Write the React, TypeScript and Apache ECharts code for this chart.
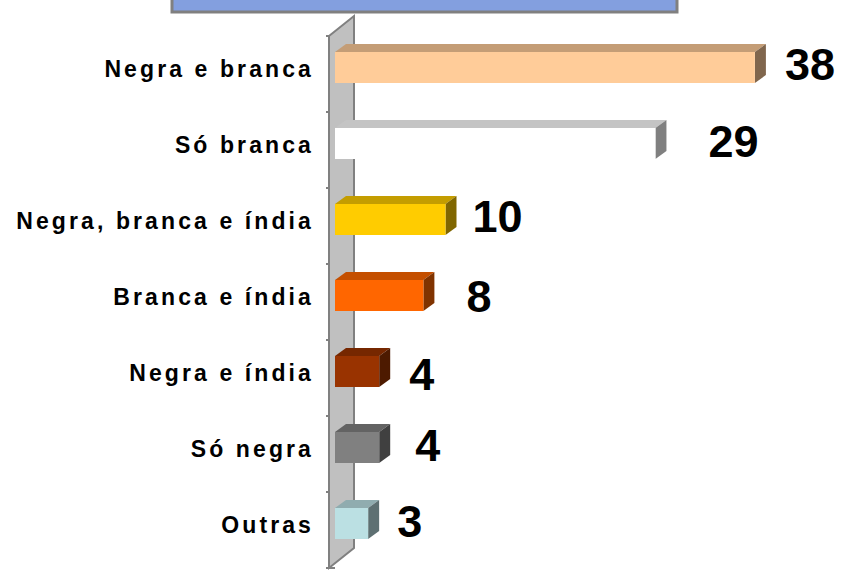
import React, { useEffect, useRef } from 'react';
import * as echarts from 'echarts';

// ---- data ----
const categories = [
  'Negra e branca',
  'Só branca',
  'Negra, branca e índia',
  'Branca e índia',
  'Negra e índia',
  'Só negra',
  'Outras',
];
const values = [38, 29, 10, 8, 4, 4, 3];
const barColors = ['#FFCC99', '#FFFFFF', '#FFCC00', '#FF6600', '#993300', '#808080', '#BBE0E3'];
// label nudges (px) relative to bar end / band centre
const labelDx = [30, 53, 27, 43, 30, 36, 29];
const labelDy = [-10, -9, -10, -6, -4, -9, -9];

function shade(hex: string, f: number): string {
  const n = parseInt(hex.slice(1), 16);
  const r = Math.round(((n >> 16) & 255) * f);
  const g = Math.round(((n >> 8) & 255) * f);
  const b = Math.round((n & 255) * f);
  return 'rgb(' + r + ',' + g + ',' + b + ')';
}

const DX = 11;
const DY = -8;
const WALL_DX = 25;
const WALL_DY = -20;
const BAR_H = 31;
const BAR_SHIFT = -6.5;

export default function App() {
  const ref = useRef<HTMLDivElement>(null);

  useEffect(() => {
    if (!ref.current) return;
    const chart = echarts.init(ref.current, null, { renderer: 'svg' });
    const option: any = {
      animation: false,
      backgroundColor: '#ffffff',
      grid: { left: 335, top: 36, width: 442, height: 532 },
      xAxis: { type: 'value', min: 0, max: 40, show: false },
      yAxis: {
        type: 'category',
        data: categories,
        inverse: true,
        offset: 6,
        axisLine: { show: false },
        axisTick: { show: true, length: 9, lineStyle: { color: '#808080', width: 2 } },
        axisLabel: {
          interval: 0,
          margin: 15,
          fontSize: 23,
          fontWeight: 'bold',
          fontFamily: 'Liberation Sans',
          color: '#000000',
          verticalAlign: 'bottom',
          lineHeight: 10,
        },
        splitLine: { show: false },
      },
      graphic: [
        {
          type: 'rect',
          shape: { x: 172, y: -20, width: 505, height: 32 },
          style: { fill: '#839FDF', stroke: '#808080', lineWidth: 3 },
          silent: true,
        },
      ],
      series: [
        {
          type: 'custom',
          name: 'wall',
          z: 1,
          silent: true,
          data: [[0, 0]],
          renderItem: (params: any) => {
            const cs = params.coordSys;
            const L = cs.x - 6;
            const T = cs.y;
            const B = cs.y + cs.height;
            return {
              type: 'polygon',
              shape: {
                points: [
                  [L, T],
                  [L + WALL_DX, T + WALL_DY],
                  [L + WALL_DX, B + WALL_DY],
                  [L, B],
                ],
              },
              style: { fill: '#C0C0C0', stroke: '#808080', lineWidth: 2 },
            };
          },
        },
        {
          type: 'custom',
          name: 'bars',
          z: 3,
          data: values.map((v, i) => [v, i]),
          encode: { x: 0, y: 1 },
          renderItem: (params: any, api: any) => {
            const v = api.value(0);
            const i = api.value(1);
            const p0 = api.coord([0, i]);
            const p1 = api.coord([v, i]);
            const cy = p0[1] + BAR_SHIFT;
            const yt = cy - BAR_H / 2;
            const yb = cy + BAR_H / 2;
            const x0 = p0[0];
            const x1 = p1[0];
            const front = barColors[i];
            return {
              type: 'group',
              children: [
                {
                  type: 'polygon',
                  shape: { points: [[x0, yt], [x0 + DX, yt + DY], [x1 + DX, yt + DY], [x1, yt]] },
                  style: { fill: shade(front, 0.77) },
                },
                {
                  type: 'polygon',
                  shape: { points: [[x1, yt], [x1 + DX, yt + DY], [x1 + DX, yb + DY], [x1, yb]] },
                  style: { fill: shade(front, 0.5) },
                },
                {
                  type: 'rect',
                  shape: { x: x0, y: yt, width: x1 - x0, height: BAR_H },
                  style: { fill: front },
                },
                {
                  type: 'text',
                  style: {
                    text: String(v),
                    x: x1 + labelDx[i],
                    y: p0[1] + labelDy[i],
                    fill: '#000000',
                    fontSize: 45,
                    fontWeight: 'bold',
                    fontFamily: 'Liberation Sans',
                    align: 'left',
                    verticalAlign: 'middle',
                  },
                },
              ],
            };
          },
        },
      ],
    };
    chart.setOption(option);
    return () => chart.dispose();
  }, []);

  return (
    <>
      <style>{`.c3d svg text[style*="23px"]{letter-spacing:3.1px;}`}</style>
      <div
        ref={ref}
        className="c3d"
        style={{ position: 'absolute', left: 0, top: 0, width: 843, height: 576, background: '#ffffff' }}
      />
    </>
  );
}
